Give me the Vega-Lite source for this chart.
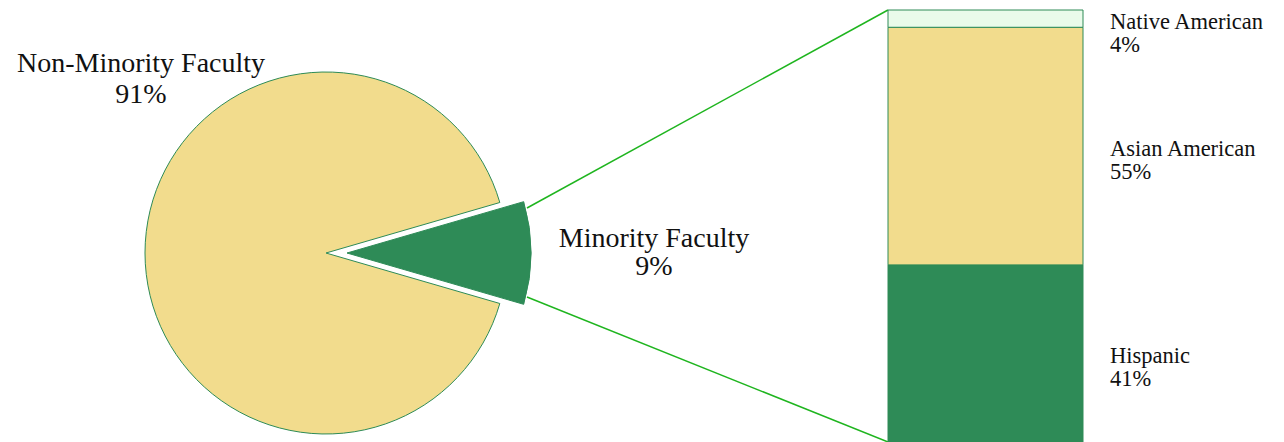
{
  "$schema": "https://vega.github.io/schema/vega-lite/v6.json",
  "width": 1284,
  "height": 432,
  "autosize": {"type": "none"},
  "padding": {"left": 0, "top": 10, "right": 0, "bottom": 0},
  "background": "white",
  "config": {"view": {"stroke": null}, "text": {"font": "Liberation Serif", "color": "#111111"}},
  "datasets": {
    "pie": [
      {"group": "Minority Faculty", "value": 9},
      {"group": "Non-Minority Faculty", "value": 91}
    ],
    "bar": [
      {"group": "Hispanic", "value": 41},
      {"group": "Asian American", "value": 55},
      {"group": "Native American", "value": 4}
    ]
  },
  "layer": [
    {
      "data": {"values": [{}]},
      "mark": {"type": "rule", "color": "#1fb51f", "strokeWidth": 1.5},
      "encoding": {
        "x": {"datum": 527, "type": "quantitative", "scale": {"domain": [0, 1284], "nice": false, "zero": false}, "axis": null},
        "y": {"datum": 54.17, "type": "quantitative", "scale": {"domain": [0, 100], "nice": false}, "axis": null},
        "x2": {"datum": 888},
        "y2": {"datum": 100}
      }
    },
    {
      "data": {"values": [{}]},
      "mark": {"type": "rule", "color": "#1fb51f", "strokeWidth": 1.5},
      "encoding": {
        "x": {"datum": 527, "type": "quantitative", "scale": {"domain": [0, 1284], "nice": false, "zero": false}, "axis": null},
        "y": {"datum": 33.56, "type": "quantitative", "scale": {"domain": [0, 100], "nice": false}, "axis": null},
        "x2": {"datum": 888},
        "y2": {"datum": 0}
      }
    },
    {
      "data": {"name": "pie"},
      "transform": [{"filter": "datum.group === 'Non-Minority Faculty'"}],
      "mark": {"type": "arc", "radius": 181, "fill": "#f2dc8d", "stroke": "#2e8b57", "strokeWidth": 1},
      "encoding": {
        "x": {"datum": 326, "type": "quantitative", "scale": {"domain": [0, 1284], "nice": false, "zero": false}, "axis": null},
        "y": {"datum": 43.75, "type": "quantitative", "scale": {"domain": [0, 100], "nice": false}, "axis": null},
        "theta": {"field": "value", "type": "quantitative", "stack": true, "scale": {"domain": [0, 91], "range": [1.8535, 7.5713]}}
      }
    },
    {
      "data": {"name": "pie"},
      "transform": [{"filter": "datum.group === 'Minority Faculty'"}],
      "mark": {"type": "arc", "radius": 184, "xOffset": 21, "fill": "#2e8b57", "stroke": "#2e8b57", "strokeWidth": 1},
      "encoding": {
        "x": {"datum": 326, "type": "quantitative", "scale": {"domain": [0, 1284], "nice": false, "zero": false}, "axis": null},
        "y": {"datum": 43.75, "type": "quantitative", "scale": {"domain": [0, 100], "nice": false}, "axis": null},
        "theta": {"field": "value", "type": "quantitative", "stack": true, "scale": {"domain": [0, 9], "range": [1.2881, 1.8535]}}
      }
    },
    {
      "data": {"name": "bar"},
      "transform": [
        {"window": [{"op": "row_number", "as": "rank"}]},
        {"stack": "value", "groupby": [], "sort": [{"field": "rank"}], "as": ["v0", "v1"]}
      ],
      "mark": {"type": "bar", "stroke": "#2e8b57", "strokeWidth": 1},
      "encoding": {
        "x": {"datum": 888, "type": "quantitative", "scale": {"domain": [0, 1284], "nice": false, "zero": false}, "axis": null},
        "x2": {"datum": 1083},
        "y": {"field": "v1", "type": "quantitative", "scale": {"domain": [0, 100], "nice": false}, "axis": null},
        "y2": {"field": "v0"},
        "fill": {"field": "group", "type": "nominal", "scale": {"domain": ["Hispanic", "Asian American", "Native American"], "range": ["#2e8b57", "#f2dc8d", "#eafbea"]}, "legend": null}
      }
    },
    {
      "data": {"name": "bar"},
      "transform": [
        {"window": [{"op": "row_number", "as": "rank"}]},
        {"stack": "value", "groupby": [], "sort": [{"field": "rank"}], "as": ["v0", "v1"]},
        {"calculate": "(datum.v0 + datum.v1) / 2", "as": "mid"},
        {"calculate": "datum.group + '\\n' + datum.value + '%'", "as": "label"}
      ],
      "mark": {"type": "text", "align": "left", "baseline": "top", "dy": -8, "fontSize": 22.5, "lineBreak": "\n", "lineHeight": 23},
      "encoding": {
        "x": {"datum": 1110, "type": "quantitative", "scale": {"domain": [0, 1284], "nice": false, "zero": false}, "axis": null},
        "y": {"field": "mid", "type": "quantitative", "scale": {"domain": [0, 100], "nice": false}, "axis": null},
        "text": {"field": "label"}
      }
    },
    {
      "data": {"name": "pie"},
      "transform": [
        {"filter": "datum.group === 'Non-Minority Faculty'"},
        {"calculate": "datum.group + '\\n' + datum.value + '%'", "as": "label"}
      ],
      "mark": {"type": "text", "align": "center", "baseline": "alphabetic", "fontSize": 28, "lineBreak": "\n", "lineHeight": 31},
      "encoding": {
        "x": {"datum": 141, "type": "quantitative", "scale": {"domain": [0, 1284], "nice": false, "zero": false}, "axis": null},
        "y": {"datum": 85.72, "type": "quantitative", "scale": {"domain": [0, 100], "nice": false}, "axis": null},
        "text": {"field": "label"}
      }
    },
    {
      "data": {"name": "pie"},
      "transform": [
        {"filter": "datum.group === 'Minority Faculty'"},
        {"calculate": "datum.group + '\\n' + datum.value + '%'", "as": "label"}
      ],
      "mark": {"type": "text", "align": "center", "baseline": "alphabetic", "fontSize": 28, "lineBreak": "\n", "lineHeight": 28},
      "encoding": {
        "x": {"datum": 654, "type": "quantitative", "scale": {"domain": [0, 1284], "nice": false, "zero": false}, "axis": null},
        "y": {"datum": 45.14, "type": "quantitative", "scale": {"domain": [0, 100], "nice": false}, "axis": null},
        "text": {"field": "label"}
      }
    }
  ],
  "resolve": {"scale": {"theta": "independent"}}
}
